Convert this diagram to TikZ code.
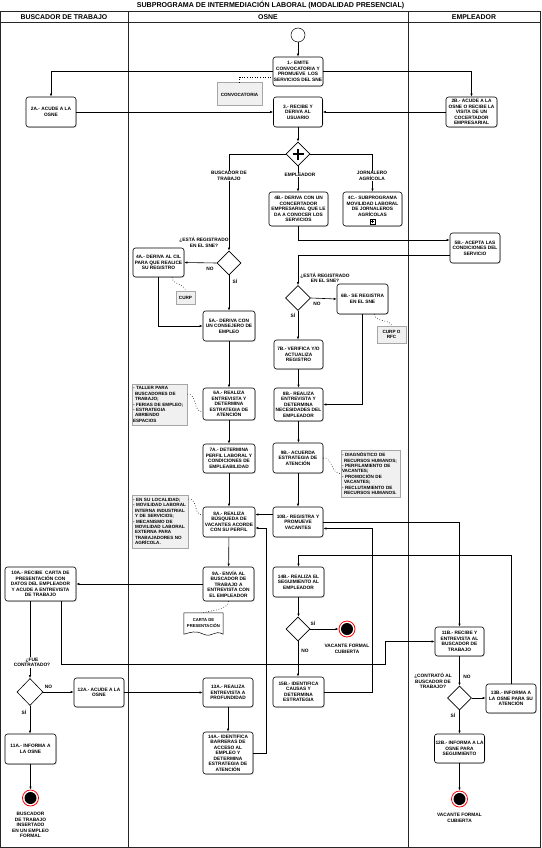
\documentclass[tikz,border=0pt]{standalone}
\usepackage{fontspec}
\setmainfont{Liberation Sans}
\usetikzlibrary{arrows.meta,shapes.geometric,calc,shadows}
\begin{document}
\begin{tikzpicture}[x=1pt,y=-1pt,
  every node/.style={font=\fontsize{4.8}{5.5}\selectfont\bfseries},
  box/.style={draw, rounded corners=2.5pt, fill=white, align=center, inner sep=0.5pt, line width=0.6pt,
    drop shadow={shadow xshift=0.8pt,shadow yshift=-0.8pt,opacity=0.3}},
  ann/.style={draw=gray!70, line width=1pt, fill=gray!12, align=left, inner sep=1pt,
    font=\fontsize{4.6}{5.4}\selectfont\bfseries},
  dec/.style={diamond, draw, fill=white, inner sep=0pt, minimum width=24pt, minimum height=24pt, line width=0.6pt},
  arr/.style={-{Latex[length=3pt,width=2.4pt]}, line width=0.6pt},
  assoc/.style={dotted, line width=0.6pt},
  lbl/.style={inner sep=0.4pt, align=center},
  wlbl/.style={inner sep=0.6pt, align=center, fill=white},
  lane/.style={line width=0.8pt, draw=black!85},
  hdr/.style={font=\fontsize{6.9}{7}\selectfont\bfseries, inner sep=0pt},
  ttl/.style={font=\fontsize{7.1}{7.5}\selectfont\bfseries, inner sep=0pt},
  endev/.style={circle, draw=red, line width=0.8pt, fill=white, minimum size=16pt, inner sep=0pt},
  startev/.style={circle, draw, line width=0.5pt, fill=white, minimum size=14pt, inner sep=0pt}
]
\useasboundingbox (0,0) rectangle (541,848);

% ---------- frame and lanes ----------
\node[ttl] (title) at (270.5,5.5) {SUBPROGRAMA DE INTERMEDIACIÓN LABORAL (MODALIDAD PRESENCIAL)};
\draw[lane] (0.5,11) rectangle (540.5,847.5);
\draw[lane] (0.5,22) -- (540.5,22);
\draw[lane] (128,11) -- (128,847.5);
\draw[lane] (408,11) -- (408,847.5);
\node[hdr] (h1) at (64,16.8) {BUSCADOR DE TRABAJO};
\node[hdr] (h2) at (268,16.8) {OSNE};
\node[hdr] (h3) at (474,16.8) {EMPLEADOR};

% ---------- nodes ----------
\node[startev] (start) at (298,35) {};
\node[box, minimum width=50pt, minimum height=29pt] (n1) at (298,71.5) {1.- EMITE\\CONVOCATORIA Y\\PROMUEVE~~LOS\\SERVICIOS DEL SNE};
\node[box, minimum width=50pt, minimum height=30pt] (n2A) at (51,112) {2A.- ACUDE A LA\\OSNE};
\node[box, minimum width=49pt, minimum height=30pt] (n3) at (298,112) {3.- RECIBE Y\\DERIVA AL\\USUARIO};
\node[box, minimum width=51pt, minimum height=30pt] (n2B) at (471.5,112) {2B.- ACUDE A LA\\OSNE O RECIBE LA\\VISITA DE UN\\COCERTADOR\\EMPRESARIAL};
\node[ann, align=center, minimum width=45pt, minimum height=23pt] (conv) at (239.5,94.5) {CONVOCATORIA};

\node[dec] (gw) at (298,154) {};
\draw[line width=1.7pt] ([xshift=-5.5pt]gw.center) -- ([xshift=5.5pt]gw.center)
  ([yshift=-5.5pt]gw.center) -- ([yshift=5.5pt]gw.center);

\node[box, minimum width=59pt, minimum height=34pt] (n4B) at (298.5,209) {4B.- DERIVA CON UN\\CONCERTADOR\\EMPRESARIAL QUE LE\\DA A CONOCER LOS\\SERVICIOS};
\node[box, minimum width=59pt, minimum height=34pt] (n4C) at (372.5,209) {4C.- SUBPROGRAMA\\MOVILIDAD LABORAL\\DE JORNALEROS\\AGRÍCOLAS\\\rule{0pt}{4pt}};
\node[draw, fill=white, minimum size=5.5pt, inner sep=0pt, line width=0.5pt] (m4C) at (372.5,221.5) {};
\draw[line width=0.7pt] ([xshift=-1.9pt]m4C.center) -- ([xshift=1.9pt]m4C.center)
  ([yshift=-1.9pt]m4C.center) -- ([yshift=1.9pt]m4C.center);
\node[box, minimum width=50pt, minimum height=30pt] (n5B) at (475,248) {5B.- ACEPTA LAS\\CONDICIONES DEL\\SERVICIO};

\node[dec] (dA1) at (229,263) {};
\node[box, minimum width=51pt, minimum height=29pt] (n4A) at (158.5,262.5) {4A.- DERIVA AL CIL\\PARA QUE REALICE\\SU REGISTRO};
\node[ann, align=center, minimum width=19pt, minimum height=13pt] (curp) at (185.5,297.5) {CURP};
\node[box, minimum width=52pt, minimum height=30pt] (n5A) at (229,326) {5A.- DERIVA CON\\UN CONSEJERO DE\\EMPLEO};

\node[dec, minimum width=25pt, minimum height=25pt] (dB1) at (298,298) {};
\node[box, minimum width=51pt, minimum height=30pt] (n6B) at (362.5,299) {6B.- SE REGISTRA\\EN EL SNE};
\node[ann, align=center, minimum width=29pt, minimum height=17pt] (curprfc) at (391.5,334.5) {CURP O\\RFC};
\node[box, minimum width=49pt, minimum height=29pt] (n7B) at (298.5,354.5) {7B.- VERIFICA Y/O\\ACTUALIZA\\REGISTRO};
\node[box, minimum width=49pt, minimum height=33pt] (n8B) at (298.5,404.5) {8B.- REALIZA\\ENTREVISTA Y\\DETERMINA\\NECESIDADES DEL\\EMPLEADOR};

\node[box, minimum width=52pt, minimum height=32pt] (n6A) at (229,404) {6A.- REALIZA\\ENTREVISTA Y\\DETERMINA\\ESTRATEGIA DE\\ATENCIÓN};
\node[ann, text width=53pt, minimum height=41pt] (ann6A) at (159.5,404.5) {- TALLER PARA\\\hspace*{2pt}BUSCADORES DE\\\hspace*{2pt}TRABAJO;\\- FERIAS DE EMPLEO;\\- ESTRATEGIA\\\hspace*{2pt}ABRIENDO\\ESPACIOS};
\node[box, minimum width=50pt, minimum height=30pt] (n9B) at (298,458) {9B.- ACUERDA\\ESTRATEGIA DE\\ATENCIÓN};
\node[ann, text width=57pt, minimum height=47pt] (ann9B) at (370.5,473.5) {- DIAGNÓSTICO DE\\\hspace*{2pt}RECURSOS HUMANOS;\\- PERFILAMIENTO DE\\VACANTES;\\- PROMOCIÓN DE\\\hspace*{2pt}VACANTES;\\- RECLUTAMIENTO DE\\\hspace*{2pt}RECURSOS HUMANOS.};
\node[box, minimum width=52pt, minimum height=29pt] (n7A) at (229,458.5) {7A.- DETERMINA\\PERFIL LABORAL Y\\CONDICIONES DE\\EMPLEABILIDAD};
\node[box, minimum width=52pt, minimum height=30pt] (n8A) at (229,522) {8A.- REALIZA\\BÚSQUEDA DE\\VACANTES ACORDE\\CON SU PERFIL};
\node[ann, text width=54pt, minimum height=53pt] (ann8A) at (160,521.5) {- EN SU LOCALIDAD;\\- MOVILIDAD LABORAL\\\hspace*{2pt}INTERNA INDUSTRIAL\\\hspace*{2pt}Y DE SERVICIOS;\\- MECANISMO DE\\\hspace*{2pt}MOVILIDAD LABORAL\\\hspace*{2pt}EXTERNA PARA\\\hspace*{2pt}TRABAJADORES NO\\\hspace*{2pt}AGRÍCOLA.};
\node[box, minimum width=50pt, minimum height=30pt] (n10B) at (298,522) {10B.- REGISTRA Y\\PROMUEVE\\VACANTES};

\node[box, minimum width=51pt, minimum height=34pt] (n9A) at (228.5,584) {9A.- ENVÍA AL\\BUSCADOR DE\\TRABAJO A\\ENTREVISTA CON\\EL EMPLEADOR};
\node[box, minimum width=71pt, minimum height=34pt] (n10A) at (40.5,584) {10A.- RECIBE~~CARTA DE\\PRESENTACIÓN CON\\DATOS DEL EMPLEADOR\\Y ACUDE A ENTREVISTA\\DE TRABAJO};
\node[inner sep=0pt, minimum width=39pt, minimum height=21pt] (carta) at (203.5,623.5) {};
\draw[fill=white, line width=0.5pt] (carta.north west) -- (carta.north east) -- (carta.south east)
  .. controls +(-9,-5) and +(9,4) .. (carta.south)
  .. controls +(-9,-4) and +(8,-2) .. (carta.south west) -- cycle;
\node[lbl, font=\fontsize{4.2}{5.2}\selectfont\bfseries] (cartat) at (203.5,623) {CARTA DE\\PRESENTACIÓN};

\node[box, minimum width=51pt, minimum height=30pt] (n14B) at (298.5,582) {14B.- REALIZA EL\\SEGUIMIENTO AL\\EMPLEADOR};
\node[dec] (dB2) at (298,629) {};
\node[endev] (eB1) at (347,629) {};
\fill (eB1.center) circle (6pt);
\node[box, minimum width=51pt, minimum height=30pt] (n15B) at (298.5,692) {15B.- IDENTIFICA\\CAUSAS Y\\DETERMINA\\ESTRATEGIA};

\node[box, minimum width=49pt, minimum height=29pt] (n11B) at (459.5,641.5) {11B.- RECIBE Y\\ENTREVISTA AL\\BUSCADOR DE\\TRABAJO};
\node[dec] (dB3) at (459.5,698) {};
\node[box, minimum width=50pt, minimum height=29pt] (n13B) at (511,698.5) {13B.- INFORMA A\\LA OSNE PARA SU\\ATENCIÓN};
\node[box, minimum width=50pt, minimum height=29pt] (n12B) at (459.5,748.5) {12B.- INFORMA A LA\\OSNE PARA\\SEGUIMIENTO};
\node[endev] (eB2) at (459.5,799) {};
\fill (eB2.center) circle (6pt);

\node[dec, minimum width=26pt, minimum height=27pt] (dA2) at (30,692) {};
\node[box, minimum width=50pt, minimum height=29pt] (n12A) at (99,692.5) {12A.- ACUDE A LA\\OSNE};
\node[box, minimum width=50pt, minimum height=29pt] (n13A) at (228,692.5) {13A.- REALIZA\\ENTREVISTA A\\PROFUNDIDAD};
\node[box, minimum width=50pt, minimum height=42pt] (n14A) at (228,753) {14A.- IDENTIFICA\\BARRERAS DE\\ACCESO AL\\EMPLEO Y\\DETERMINA\\ESTRATEGIA DE\\ATENCIÓN};
\node[box, minimum width=51pt, minimum height=30pt] (n11A) at (30.5,749) {11A.- INFORMA A\\LA OSNE};
\node[endev] (eA) at (30.5,798) {};
\fill (eA.center) circle (6pt);

\coordinate (kA) at (385,664);

% ---------- connectors ----------
\draw[arr] (start) -- (n1);
\draw[arr] (n1.west) -| (n2A.north);
\draw[arr] (n1.east) -| (n2B.north);
\draw[arr] (n2A.east) -- (n3.west);
\draw[arr] (n2B.west) -- (n3.east);
\draw[assoc] (conv.north) |- ([yshift=-5.5pt]n1.west);
\draw[arr] (n3.south) -- (gw.north);
\draw[arr] (gw.west) -| (dA1.north);
\draw[arr] (gw.south) -- (gw.south |- n4B.north);
\draw[arr] (gw.east) -| (n4C.north);
\draw[arr] (n4B.south) |- ([yshift=8pt]n5B.west);
\draw[arr] ([yshift=-7.5pt]n5B.west) -| (dB1.north);
\draw[arr] (dA1.west) -- (n4A.east);
\draw[arr] (dA1.south) -- (n5A.north);
\draw[arr] (n4A.south) |- (n5A.west);
\draw[assoc] ([xshift=13.5pt]n4A.south) .. controls +(0,7) and +(0,-6) .. (curp.north);
\draw[arr] (dB1.east) -- (n6B.west);
\draw[arr] (dB1.south) -- (dB1.south |- n7B.north);
\draw[arr] (n6B.south) |- (n8B.east);
\draw[assoc] ([xshift=12pt]n6B.south) .. controls +(0,8) and +(0,-6) .. (curprfc.north);
\draw[arr] (n7B) -- (n8B);
\draw[arr] (n8B.south) -- (n8B.south |- n9B.north);
\draw[arr] (n9B) -- (n10B);
\draw[assoc] (n9B.east) .. controls +(10,0) and +(-10,0) .. (ann9B.west);
\draw[arr] (n5A) -- (n6A);
\draw[arr] (n6A) -- (n7A);
\draw[arr] (n7A) -- (n8A);
\draw[assoc] ([yshift=10.5pt]ann6A.east) .. controls +(10,0) and +(-10,0) .. ([yshift=-8pt]n6A.west);
\draw[assoc] ([yshift=22.5pt]ann8A.east) .. controls +(10,0) and +(-10,0) .. ([yshift=7pt]n8A.west);
\draw[arr] ([yshift=7.5pt]n10B.west) -- ([yshift=7.5pt]n8A.east);
\draw[arr] (n10B.east) -| (n11B.north);
\draw[arr] (n15B.east) -- ++(48,0) |- ([yshift=-6.5pt]n10B.east);
\draw[arr] (n13B.north) -- ++(0,-128) -| (n14B.north);
\draw[arr] (n8A) -- (n9A);
\draw[arr] (n9A.west) -- (n10A.east);
\draw[assoc] (n9A.south) .. controls +(0,8) and +(10,-2) .. ([xshift=-2pt]carta.north);
\draw[arr] (n14B.south) -- (n14B.south |- dB2.north);
\draw[arr] (dB2.east) -- (eB1.west);
\draw[arr] (dB2.south) -- (dB2.south |- n15B.north);
\draw[arr] (n11B) -- (dB3);
\draw[arr] (dB3.east) -- (dB3.east -| n13B.west);
\draw[arr] (dB3) -- (n12B);
\draw[arr] (n12B) -- (eB2);
\draw[arr] (n10A.south -| dA2.north) -- (dA2.north);
\draw[arr] ([xshift=21.2pt]n10A.south) |- (kA) |- (n11B.west);
\draw[arr] (dA2.east) -- (dA2.east -| n12A.west);
\draw[arr] (dA2.south) -- (dA2.south |- n11A.north);
\draw[arr] (n12A) -- (n13A);
\draw[arr] (n13A) -- (n14A);
\draw[arr] (n14A.east) -- ++(12.7,0) |- ([yshift=-6pt]n8A.east);
\draw[arr] (n11A) -- (eA);

% ---------- labels ----------
\node[wlbl] (lbBT) at (229,176) {BUSCADOR DE\\TRABAJO};
\node[wlbl] (lbEM) at (300,175) {EMPLEADOR};
\node[wlbl] (lbJA) at (372,176) {JORNALERO\\AGRÍCOLA};
\node[lbl] (qA1) at (204,242.5) {¿ESTÁ REGISTRADO\\EN EL SNE?};
\node[lbl] (qB1) at (325,278) {¿ESTÁ REGISTRADO\\EN EL SNE?};
\node[lbl] (noA1) at (210,268.5) {NO};
\node[lbl] (siA1) at (235,281) {SÍ};
\node[lbl] (noB1) at (317,304) {NO};
\node[lbl] (siB1) at (293,315) {SÍ};
\node[lbl] (siB2) at (313,623) {SÍ};
\node[lbl] (noB2) at (305,651) {NO};
\node[lbl] (vB1) at (347,649) {VACANTE FORMAL\\CUBIERTA};
\node[lbl] (qB3) at (433,681) {¿CONTRATÓ AL\\BUSCADOR DE\\TRABAJO?};
\node[lbl] (noB3) at (467,677) {NO};
\node[lbl] (siB3) at (453,715) {SÍ};
\node[lbl] (vB2) at (459.5,818) {VACANTE FORMAL\\CUBIERTA};
\node[wlbl] (qA2) at (32,662.5) {¿FUE\\CONTRATADO?};
\node[lbl] (noA2) at (48.5,687) {NO};
\node[lbl] (siA2) at (24,712.5) {SÍ};
\node[lbl] (vA) at (30.5,825) {BUSCADOR\\DE TRABAJO\\INSERTADO\\EN UN EMPLEO\\FORMAL};
\end{tikzpicture}
\end{document}
